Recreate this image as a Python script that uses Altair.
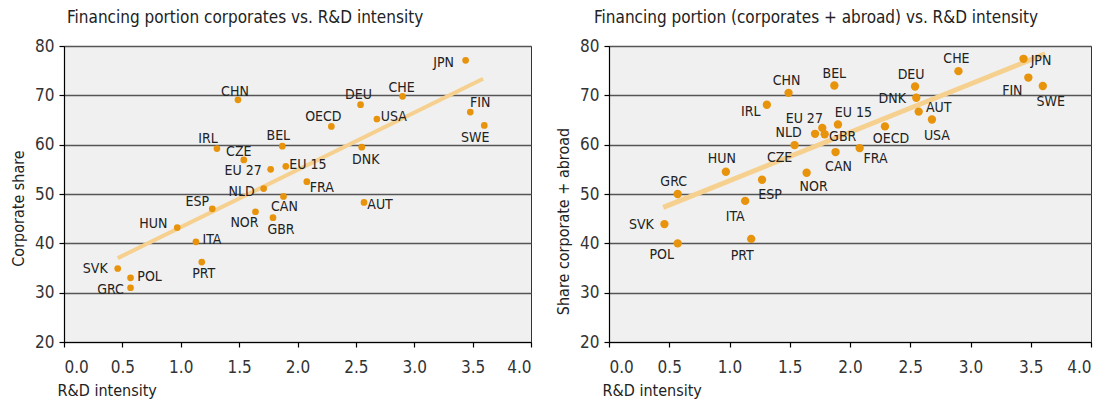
import altair as alt
import pandas as pd

countries = ["JPN", "CHE", "DEU", "CHN", "OECD", "USA", "FIN", "SWE", "IRL", "BEL",
             "DNK", "CZE", "EU 27", "EU 15", "FRA", "NLD", "CAN", "AUT", "ESP", "NOR",
             "GBR", "HUN", "ITA", "PRT", "SVK", "POL", "GRC"]
rd_intensity = [3.44, 2.90, 2.54, 1.49, 2.29, 2.68, 3.48, 3.60, 1.31, 1.87,
                2.55, 1.54, 1.77, 1.90, 2.08, 1.71, 1.88, 2.57, 1.27, 1.64,
                1.79, 0.97, 1.13, 1.18, 0.46, 0.57, 0.57]
corporate_share = [77.1, 69.8, 68.1, 69.1, 63.7, 65.2, 66.6, 63.9, 59.2, 59.7,
                   59.5, 56.9, 55.0, 55.6, 52.5, 51.1, 49.5, 48.3, 47.0, 46.4,
                   45.2, 43.2, 40.3, 36.2, 34.9, 33.0, 31.0]
corp_abroad_share = [77.4, 74.9, 71.8, 70.5, 63.7, 65.1, 73.6, 71.9, 68.1, 72.0,
                     69.5, 59.9, 63.4, 64.1, 59.3, 62.2, 58.5, 66.7, 52.9, 54.3,
                     62.1, 54.5, 48.6, 40.9, 43.9, 40.0, 50.0]

trend_left_x = [0.46, 3.59]
trend_left_y = [37.0, 73.35]
trend_right_x = [0.45, 3.62]
trend_right_y = [47.3, 78.4]

# label offsets (pixels, relative to the dot centre)
left_dx = [-22, -1, -2, -3, -8, 17, 10, -9, -9, -4,
           4, -5, -27.5, 22, 15, -22, 1, 16, -15, -11,
           8, -24, 16, 2, -22.5, 19, -20]
left_dy = [3, -8, -10, -8, -9, -2, -9, 13, -10, -10,
           13, -8, 2, -1, 6, 3, 11, 3, -7, 11,
           12, -4, -2, 12, 1, -1, 2]
right_dx = [17.5, -2, -4, -2, 6, 5, -16, 8, -16, 0,
            -24, -15, -18, 15.5, 16, -26.5, 3, 20, 8, 7,
            18, -4, -10, -9, -23, -16, -4]
right_dy = [2, -12, -11, -12, 13, 16, 13, 16, 7, -11,
            1, 13, -9, -11, 11, -1, 15, -4, 15, 14,
            3, -13, 16, 17, 1, 12, -12]

FONT = "Liberation Sans Narrow, Arial Narrow, DejaVu Sans Condensed, sans-serif"
DOT = "#E8930C"
TREND = "#F6D08F"


def panel(values, dxs, dys, tx, ty, width, title, ytitle, title_dx, ytitle_y, dot_size, line_w):
    df = pd.DataFrame({"country": countries, "rd": rd_intensity, "share": values,
                       "dx": dxs, "dy": dys})
    tdf = pd.DataFrame({"rd": tx, "share": ty})
    H = 296
    xs = alt.Scale(domain=[0, 4], nice=False)
    ys = alt.Scale(domain=[20, 80], nice=False)
    xaxis = alt.Axis(values=[0, 0.5, 1, 1.5, 2, 2.5, 3, 3.5, 4], format=".1f",
                     title="R&D intensity", titleAnchor="start", titleAlign="left",
                     titleX=-7, titleY=40, titleBaseline="top")
    yaxis = alt.Axis(values=[20, 30, 40, 50, 60, 70, 80], title=ytitle,
                     titleX=-46, titleY=ytitle_y, titleBaseline="middle", titleAlign="center")
    line = alt.Chart(tdf).mark_line(color=TREND, strokeWidth=line_w, strokeCap="butt").encode(
        x=alt.X("rd:Q", scale=xs, axis=xaxis),
        y=alt.Y("share:Q", scale=ys, axis=yaxis),
    )
    pts = alt.Chart(df).mark_circle(color=DOT, opacity=1, size=dot_size).encode(
        x=alt.X("rd:Q", scale=xs),
        y=alt.Y("share:Q", scale=ys),
    )
    txt = alt.Chart(df).transform_calculate(
        lx=f"datum.rd + datum.dx * 4 / {width}",
        ly=f"datum.share - datum.dy * 60 / {H}",
    ).mark_text(font=FONT, fontSize=14, color="#222", align="center", baseline="middle").encode(
        x=alt.X("lx:Q", scale=xs),
        y=alt.Y("ly:Q", scale=ys),
        text="country:N",
    )
    return alt.layer(line, pts, txt).properties(
        width=width, height=H,
        title=alt.TitleParams(title, anchor="start", frame="group", dx=title_dx, offset=10.5,
                              fontSize=17, font=FONT, fontWeight="normal", color="#222"),
    )


left = panel(corporate_share, left_dx, left_dy, trend_left_x, trend_left_y, 467,
             "Financing portion corporates vs. R&D intensity", "Corporate share", 3, 162, 45, 4)
right = panel(corp_abroad_share, right_dx, right_dy, trend_right_x, trend_right_y, 482,
              "Financing portion (corporates + abroad) vs. R&D intensity",
              "Share corporate + abroad", -15, 175, 70, 5)

chart = alt.hconcat(left, right, spacing=21).properties(
    padding={"left": 1, "top": 0, "right": 0, "bottom": 0}
).configure_view(
    fill="#F0F0F0", stroke="#333", strokeWidth=1
).configure_axis(
    labelFont=FONT, titleFont=FONT, labelFontSize=17, titleFontSize=16,
    labelColor="#333", titleColor="#222", titleFontWeight="normal",
    domainColor="#000", domainWidth=1.2, tickColor="#000", tickSize=5, tickWidth=1.2,
    gridColor="#555", gridWidth=1.3,
).configure_axisX(
    grid=False, labelPadding=12,
).configure_axisY(
    grid=True, labelPadding=5,
)

chart.save("out.html", embed_options={"renderer": "svg", "actions": False})
